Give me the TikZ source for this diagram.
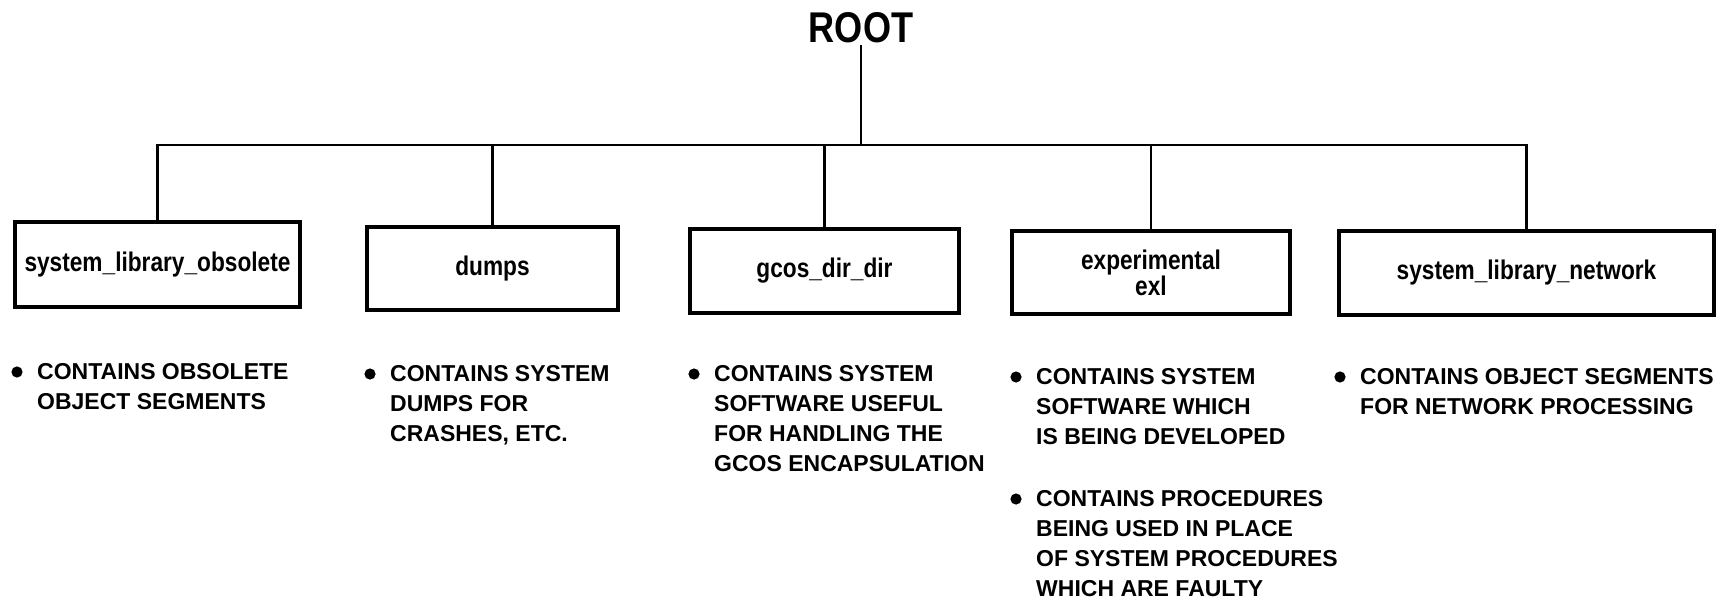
\documentclass[tikz,border=0pt]{standalone}
\usepackage{fontspec}
\setmainfont{Liberation Sans}
\newfontfamily\narrowfont[FakeStretch=0.84]{Liberation Sans}
\begin{document}
\begin{tikzpicture}[x=1pt,y=-1pt,
    dirbox/.style={draw,line width=3.6pt,inner sep=0pt,align=center,
      font=\narrowfont\bfseries\fontsize{27}{25}\selectfont},
    note/.style={anchor=north west,inner sep=0pt,align=left,
      font=\bfseries\fontsize{23}{30}\selectfont},
    link/.style={line width=2.4pt}]
  \useasboundingbox (0,0) rectangle (1722,602);
  % root and directories
  \node[inner sep=2pt,font=\narrowfont\bfseries\fontsize{43}{43}\selectfont] (root) at (861,28) {ROOT};
  \node[dirbox,minimum width=285pt,minimum height=85pt] (obsolete) at (157.5,264.5) {system\_library\_obsolete};
  \node[dirbox,minimum width=251pt,minimum height=83pt] (dumps) at (492.5,268.5) {dumps};
  \node[dirbox,minimum width=269pt,minimum height=84pt] (gcos) at (824.5,271) {gcos\_dir\_dir};
  \node[dirbox,minimum width=278pt,minimum height=83pt] (experimental) at (1151,272.5) {experimental\\exl};
  \node[dirbox,minimum width=375pt,minimum height=84pt] (network) at (1526.5,273) {system\_library\_network};
  % tree lines
  \coordinate (bar) at (861,145);
  \draw[link] (root.south) -- (root.south |- bar);
  \draw[link] (obsolete.north) |- (bar) -| (network.north);
  \foreach \d in {dumps,gcos,experimental}
    \draw[link] (\d.north) -- (\d.north |- bar);
  % notes
  \node[note] (obsoletenote) at (37,363) {CONTAINS OBSOLETE\\OBJECT SEGMENTS};
  \node[note] (dumpsnote) at (390,365) {CONTAINS SYSTEM\\DUMPS FOR\\CRASHES, ETC.};
  \node[note] (gcosnote) at (714,365) {CONTAINS SYSTEM\\SOFTWARE USEFUL\\FOR HANDLING THE\\GCOS ENCAPSULATION};
  \node[note] (expnote) at (1036,368) {CONTAINS SYSTEM\\SOFTWARE WHICH\\IS BEING DEVELOPED};
  \node[note] (exlnote) at (1036,490) {CONTAINS PROCEDURES\\BEING USED IN PLACE\\OF SYSTEM PROCEDURES\\WHICH ARE FAULTY};
  \node[note] (networknote) at (1360,368) {CONTAINS OBJECT SEGMENTS\\FOR NETWORK PROCESSING};
  \foreach \n in {obsoletenote,dumpsnote,gcosnote,expnote,exlnote,networknote}
    \fill ([shift={(-20,9)}]\n.north west) circle (5.6pt);
\end{tikzpicture}
\end{document}
